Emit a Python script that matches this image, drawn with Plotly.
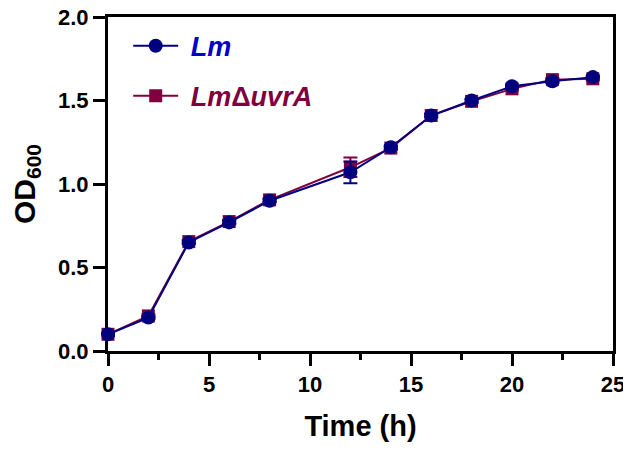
import plotly.graph_objects as go

time_h = [0, 2, 4, 6, 8, 12, 14, 16, 18, 20, 22, 24]
od_lm = [0.10, 0.20, 0.65, 0.77, 0.90, 1.07, 1.22, 1.41, 1.50, 1.585, 1.615, 1.64]
err_lm = [0.01, 0.01, 0.01, 0.01, 0.01, 0.065, 0.01, 0.01, 0.01, 0.01, 0.01, 0.01]
od_uvra = [0.10, 0.21, 0.655, 0.775, 0.905, 1.10, 1.215, 1.41, 1.495, 1.57, 1.625, 1.63]
err_uvra = [0.01, 0.01, 0.01, 0.01, 0.01, 0.058, 0.01, 0.01, 0.01, 0.01, 0.01, 0.01]

NAVY = "#00007F"
MAROON = "#7F003F"
LEGEND_BLUE = "#0000C8"
FONT = "Liberation Sans, Arial, sans-serif"
NBSP = "\u00a0"

fig = go.Figure()
fig.add_trace(go.Scatter(
    x=time_h, y=od_uvra, mode="lines+markers",
    name=f"{NBSP}<span style='color:{MAROON}'><b><i>Lm</i>Δ<i>uvrA</i></b></span>",
    line=dict(color=MAROON, width=2),
    marker=dict(symbol="square", size=13, color=MAROON),
    error_y=dict(type="data", array=err_uvra, color=MAROON, thickness=2, width=7),
    cliponaxis=False, legendrank=2, legendgroup="b",
))
fig.add_trace(go.Scatter(
    x=time_h, y=od_lm, mode="lines+markers",
    name=f"{NBSP}<span style='color:{LEGEND_BLUE}'><b><i>Lm</i></b></span>",
    line=dict(color=NAVY, width=2),
    marker=dict(symbol="circle", size=14, color=NAVY),
    error_y=dict(type="data", array=err_lm, color=NAVY, thickness=2, width=7),
    cliponaxis=False, legendrank=1, legendgroup="a",
))

axis_common = dict(
    showgrid=False, zeroline=False, showline=True, linecolor="black", linewidth=3,
    mirror=True, ticks="outside", ticklen=12, tickwidth=3, tickcolor="black",
    tickfont=dict(family=FONT, size=22, color="black", weight="bold"),
    layer="below traces", automargin=False, ticklabeloverflow="allow",
)

fig.update_xaxes(
    range=[0, 25], dtick=5, tick0=0,
    minor=dict(ticks="outside", dtick=2.5, ticklen=6, tickwidth=3, tickcolor="black"),
    title=dict(text="<b>Time (h)</b>", font=dict(family=FONT, size=29, color="black"), standoff=20),
    **axis_common,
)
fig.update_yaxes(
    range=[0, 2], dtick=0.5, tick0=0, tickformat=".1f",
    title=dict(text="<b>OD<sub>600</sub></b>", font=dict(family=FONT, size=30, color="black"), standoff=21),
    **axis_common,
)

# the page body adds an 8px offset; size the figure so the plot area lands where the reference has it
fig.update_layout(
    width=623, height=444,
    margin=dict(l=100, r=18, t=9, b=101, autoexpand=False),
    paper_bgcolor="white", plot_bgcolor="white",
    showlegend=True,
    legend=dict(
        x=0.04, y=0.986, xanchor="left", yanchor="top",
        font=dict(family=FONT, size=27),
        bgcolor="rgba(0,0,0,0)", tracegroupgap=12, itemwidth=45,
    ),
)

fig.write_html("out.html")
